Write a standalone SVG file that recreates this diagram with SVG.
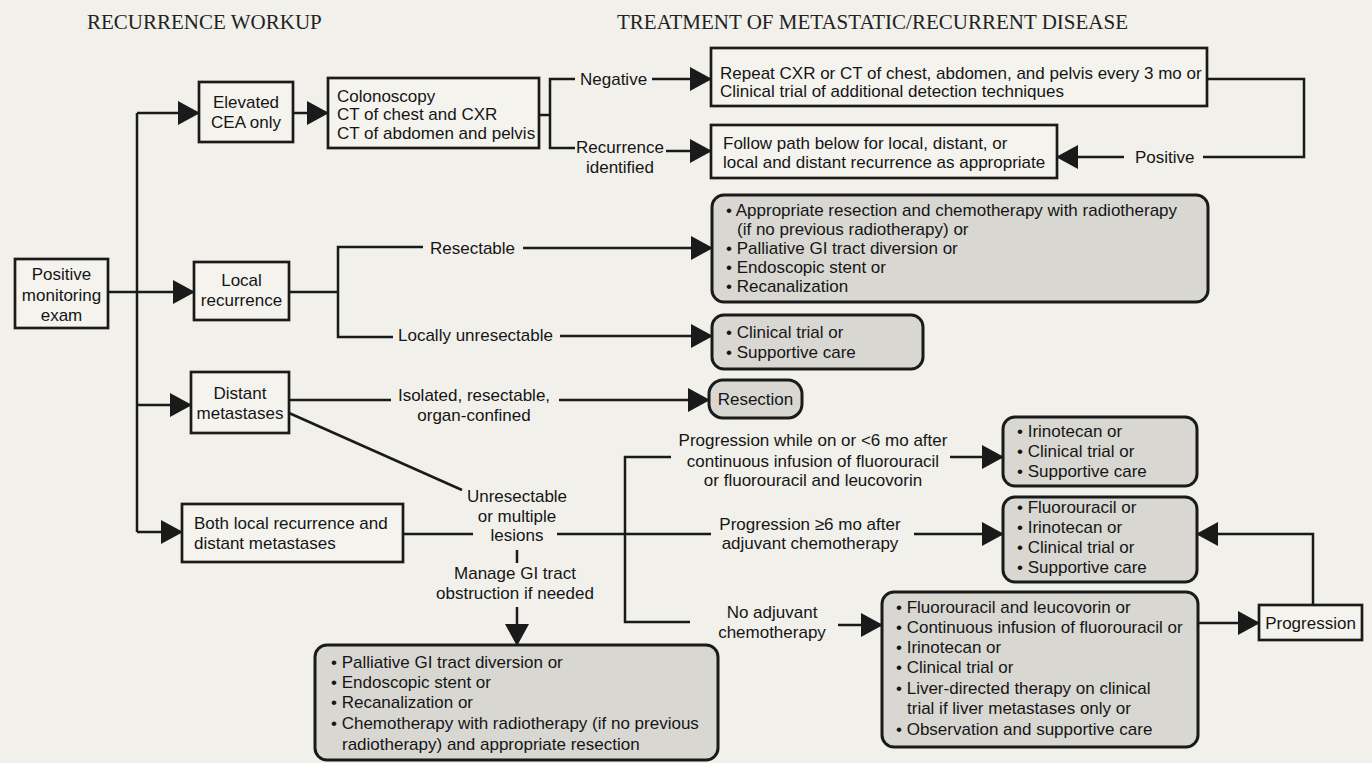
<svg xmlns="http://www.w3.org/2000/svg" width="1372" height="763" viewBox="0 0 1372 763">
<style>
.t{font-family:"Liberation Sans",Arial,sans-serif;font-size:17px;fill:#151515}
.c{text-anchor:middle}
.h{font-family:"Liberation Serif","Times New Roman",serif;font-size:21px;fill:#222}
.box{fill:#f4f3ee;stroke:#1a1a1a;stroke-width:2.7}
.g{fill:#d8d7d2;stroke:#1a1a1a;stroke-width:3}
.ln{fill:none;stroke:#1a1a1a;stroke-width:2.5}
.ar{marker-end:url(#ah)}
</style>
<defs>
<marker id="ah" markerUnits="userSpaceOnUse" markerWidth="24" markerHeight="24" refX="21" refY="12" orient="auto" viewBox="0 0 24 24">
<path d="M0,0 L22,12 L0,24 Z" fill="#1a1a1a"/>
</marker>
</defs>
<rect width="1372" height="763" fill="#f1f0ea"/>
<text class="h" x="87" y="29">RECURRENCE WORKUP</text>
<text class="h" x="617" y="29">TREATMENT OF METASTATIC/RECURRENT DISEASE</text>

<g id="connectors">
<path class="ln ar" d="M108,292 H194"/>
<path class="ln" d="M137,532 V113"/>
<path class="ln ar" d="M137,113 H199"/>
<path class="ln ar" d="M137,405 H191"/>
<path class="ln ar" d="M137,532 H182"/>
<path class="ln ar" d="M293,113 H328"/>
<path class="ln" d="M539,115 H550 M575,79 H550 V148 H575"/>
<path class="ln ar" d="M652,79 H711"/>
<path class="ln ar" d="M666,151 H711"/>
<path class="ln" d="M1207,79 H1304 V157 H1203"/>
<path class="ln ar" d="M1124,157 H1057"/>
<path class="ln" d="M289,292 H338 M423,247 H338 V337 H393"/>
<path class="ln ar" d="M523,248 H712"/>
<path class="ln ar" d="M560,336 H712"/>
<path class="ln" d="M289,400 H391"/>
<path class="ln ar" d="M559,400 H709"/>
<path class="ln" d="M289,413 L462,490"/>
<path class="ln" d="M402,534 H473 M557,534 H711"/>
<path class="ln" d="M517,550 V563"/>
<path class="ln ar" d="M517,607 V645"/>
<path class="ln" d="M671,457 H625 V622 H690"/>
<path class="ln ar" d="M950,457 H1003"/>
<path class="ln ar" d="M914,534 H1003"/>
<path class="ln ar" d="M838,625 H882"/>
<path class="ln ar" d="M1198,623 H1259"/>
<path class="ln ar" d="M1313,605 V534 H1197"/>
</g>

<g class="t">
<text x="580" y="85">Negative</text>
<text class="c" x="620" y="153">Recurrence</text>
<text class="c" x="620" y="173">identified</text>
<text x="1135" y="163">Positive</text>
<text x="430" y="254">Resectable</text>
<text x="398" y="341">Locally unresectable</text>
<text class="c" x="474" y="401">Isolated, resectable,</text>
<text class="c" x="474" y="421">organ-confined</text>
<text class="c" x="517" y="502">Unresectable</text>
<text class="c" x="517" y="522">or multiple</text>
<text class="c" x="517" y="541">lesions</text>
<text class="c" x="515" y="579">Manage GI tract</text>
<text class="c" x="515" y="599">obstruction if needed</text>
<text class="c" x="813" y="446">Progression while on or &lt;6 mo after</text>
<text class="c" x="813" y="467">continuous infusion of fluorouracil</text>
<text class="c" x="813" y="486">or fluorouracil and leucovorin</text>
<text class="c" x="810" y="530">Progression ≥6 mo after</text>
<text class="c" x="810" y="549">adjuvant chemotherapy</text>
<text class="c" x="772" y="618">No adjuvant</text>
<text class="c" x="772" y="638">chemotherapy</text>
</g>

<g id="positive-exam">
<rect class="box" x="15" y="259" width="93" height="69"/>
<text class="t c" x="61.5" y="280">Positive</text>
<text class="t c" x="61.5" y="301">monitoring</text>
<text class="t c" x="61.5" y="321">exam</text>
</g>
<g id="elevated-cea">
<rect class="box" x="199" y="82" width="94" height="60"/>
<text class="t c" x="246" y="108">Elevated</text>
<text class="t c" x="246" y="128">CEA only</text>
</g>
<g id="colonoscopy">
<rect class="box" x="328" y="78" width="211" height="70"/>
<text class="t" x="337" y="102">Colonoscopy</text>
<text class="t" x="337" y="120">CT of chest and CXR</text>
<text class="t" x="337" y="139">CT of abdomen and pelvis</text>
</g>
<g id="repeat">
<rect class="box" x="711" y="48" width="496" height="58"/>
<text class="t" x="720" y="79">Repeat CXR or CT of chest, abdomen, and pelvis every 3 mo or</text>
<text class="t" x="720" y="97">Clinical trial of additional detection techniques</text>
</g>
<g id="follow-path">
<rect class="box" x="711" y="125" width="346" height="53"/>
<text class="t" x="723" y="149">Follow path below for local, distant, or</text>
<text class="t" x="723" y="168">local and distant recurrence as appropriate</text>
</g>
<g id="local-recurrence">
<rect class="box" x="194" y="262" width="95" height="58"/>
<text class="t c" x="241.5" y="286">Local</text>
<text class="t c" x="241.5" y="306">recurrence</text>
</g>
<g id="distant-metastases">
<rect class="box" x="191" y="372" width="98" height="61"/>
<text class="t c" x="240" y="399">Distant</text>
<text class="t c" x="240" y="419">metastases</text>
</g>
<g id="both">
<rect class="box" x="182" y="504" width="221" height="58"/>
<text class="t" x="194" y="529">Both local recurrence and</text>
<text class="t" x="194" y="549">distant metastases</text>
</g>
<g id="resectable-tx">
<rect class="g" x="712" y="195" width="496" height="107" rx="12"/>
<text class="t" x="726" y="216">• Appropriate resection and chemotherapy with radiotherapy</text>
<text class="t" x="737" y="235">(if no previous radiotherapy) or</text>
<text class="t" x="726" y="254">• Palliative GI tract diversion or</text>
<text class="t" x="726" y="273">• Endoscopic stent or</text>
<text class="t" x="726" y="292">• Recanalization</text>
</g>
<g id="unresectable-tx">
<rect class="g" x="712" y="315" width="211" height="54" rx="12"/>
<text class="t" x="726" y="338">• Clinical trial or</text>
<text class="t" x="726" y="358">• Supportive care</text>
</g>
<g id="resection">
<rect class="g" x="709" y="380" width="93" height="38" rx="14"/>
<text class="t c" x="755.5" y="405">Resection</text>
</g>
<g id="irinotecan-tx">
<rect class="g" x="1003" y="417" width="194" height="69" rx="12"/>
<text class="t" x="1017" y="437">• Irinotecan or</text>
<text class="t" x="1017" y="457">• Clinical trial or</text>
<text class="t" x="1017" y="477">• Supportive care</text>
</g>
<g id="fluorouracil-tx">
<rect class="g" x="1003" y="497" width="194" height="85" rx="12"/>
<text class="t" x="1017" y="513">• Fluorouracil or</text>
<text class="t" x="1017" y="533">• Irinotecan or</text>
<text class="t" x="1017" y="553">• Clinical trial or</text>
<text class="t" x="1017" y="573">• Supportive care</text>
</g>
<g id="first-line-tx">
<rect class="g" x="882" y="592" width="316" height="155" rx="12"/>
<text class="t" x="896" y="613">• Fluorouracil and leucovorin or</text>
<text class="t" x="896" y="633">• Continuous infusion of fluorouracil or</text>
<text class="t" x="896" y="653">• Irinotecan or</text>
<text class="t" x="896" y="673">• Clinical trial or</text>
<text class="t" x="896" y="694">• Liver-directed therapy on clinical</text>
<text class="t" x="907" y="714">trial if liver metastases only or</text>
<text class="t" x="896" y="735">• Observation and supportive care</text>
</g>
<g id="progression">
<rect class="box" x="1259" y="605" width="103" height="35"/>
<text class="t c" x="1310.5" y="629">Progression</text>
</g>
<g id="gi-obstruction-tx">
<rect class="g" x="315" y="645" width="403" height="115" rx="12"/>
<text class="t" x="331" y="668">• Palliative GI tract diversion or</text>
<text class="t" x="331" y="688">• Endoscopic stent or</text>
<text class="t" x="331" y="708">• Recanalization or</text>
<text class="t" x="331" y="729">• Chemotherapy with radiotherapy (if no previous</text>
<text class="t" x="342" y="750">radiotherapy) and appropriate resection</text>
</g>
</svg>
